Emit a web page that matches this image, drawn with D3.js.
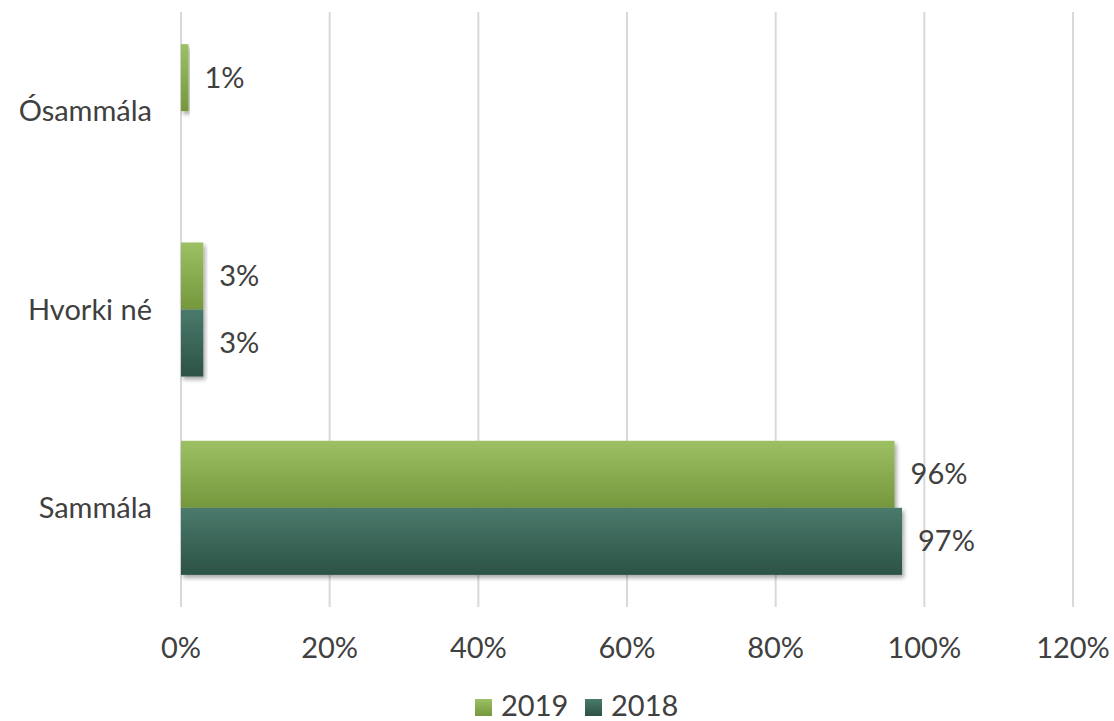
<!DOCTYPE html>
<html>
<head>
<meta charset="utf-8">
<script src="https://cdn.jsdelivr.net/npm/d3@7"></script>
<style>
    body { margin: 0; background: #fff; }
    svg text { font-family: "Lato", "Noto Sans", sans-serif; fill: #404040; }
</style>
</head>
<body>
<svg id="chart_svg" width="1114" height="721"></svg>
<script>
var categories = ["Ósammála", "Hvorki né", "Sammála"];
var series_names = ["2019", "2018"];
var values_2019 = [1, 3, 96];
var values_2018 = [null, 3, 97];
var x_ticks = [0, 20, 40, 60, 80, 100, 120];

var g_colors = {
    "2019": ["#9dc064", "#75973d"],
    "2018": ["#4a7a6c", "#2c5245"]
};

var svg = d3.select("#chart_svg");
var defs = svg.append("defs");

// vertical gradients for bars
series_names.forEach(function (s) {
    var grad = defs.append("linearGradient").attr("id", "grad_" + s)
        .attr("x1", 0).attr("y1", 0).attr("x2", 0).attr("y2", 1);
    grad.append("stop").attr("offset", "0%").attr("stop-color", g_colors[s][0]);
    grad.append("stop").attr("offset", "100%").attr("stop-color", g_colors[s][1]);
});
var shadow = defs.append("filter").attr("id", "shadow")
    .attr("x", "-10%").attr("y", "-10%").attr("width", "130%").attr("height", "130%");
shadow.append("feDropShadow").attr("dx", 2).attr("dy", 3).attr("stdDeviation", 2)
    .attr("flood-color", "#000").attr("flood-opacity", 0.35);

// scales
var x = d3.scaleLinear().domain([0, 120]).range([181, 1073]);
var y = d3.scaleBand().domain(categories).range([12, 607]).paddingInner(0.324).paddingOuter(0.162);
var y_inner = d3.scaleBand().domain(series_names).range([0, y.bandwidth()]);

// gridlines
svg.append("g").selectAll("line").data(x_ticks).join("line")
    .attr("x1", d => x(d)).attr("x2", d => x(d))
    .attr("y1", 12).attr("y2", 607)
    .attr("style", "stroke:#d9d9d9; stroke-width:2");

// x tick labels
svg.append("g").selectAll("text").data(x_ticks).join("text")
    .attr("x", d => x(d)).attr("y", 658)
    .attr("text-anchor", "middle").attr("font-size", 29)
    .text(d => d + "%");

// y category labels
svg.append("g").selectAll("text").data(categories).join("text")
    .attr("x", 152).attr("y", d => y(d) + y.bandwidth() / 2 + 10)
    .attr("text-anchor", "end").attr("font-size", 29)
    .text(d => d);

// bars
var rows = [];
categories.forEach(function (c, i) {
    rows.push({ cat: c, s: "2019", v: values_2019[i] });
    rows.push({ cat: c, s: "2018", v: values_2018[i] });
});
rows = rows.filter(d => d.v !== null);

svg.append("g").selectAll("rect").data(rows).join("rect")
    .attr("x", x(0)).attr("y", d => y(d.cat) + y_inner(d.s))
    .attr("width", d => x(d.v) - x(0)).attr("height", y_inner.bandwidth())
    .attr("fill", d => "url(#grad_" + d.s + ")")
    .attr("filter", "url(#shadow)");

// value labels
svg.append("g").selectAll("text").data(rows).join("text")
    .attr("x", d => x(d.v) + 16).attr("y", d => y(d.cat) + y_inner(d.s) + y_inner.bandwidth() / 2 + 10)
    .attr("font-size", 29)
    .text(d => d.v + "%");

// legend
var legend = svg.append("g").attr("transform", "translate(475, 699)");
var leg_x = [0, 110];
series_names.forEach(function (s, i) {
    var g = legend.append("g").attr("transform", "translate(" + leg_x[i] + ",0)");
    g.append("rect").attr("width", 17).attr("height", 17).attr("fill", "url(#grad_" + s + ")");
    g.append("text").attr("x", 26).attr("y", 17).attr("font-size", 29).text(s);
});
</script>
</body>
</html>
